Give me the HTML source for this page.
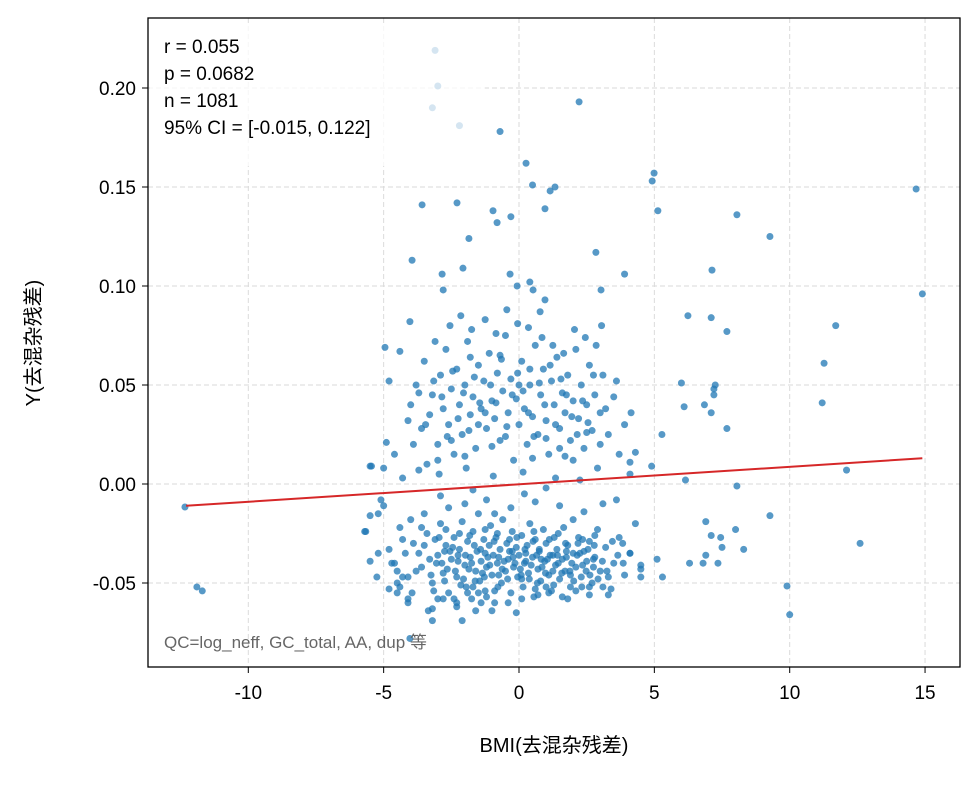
<!DOCTYPE html>
<html><head><meta charset="utf-8"><style>
body{margin:0;background:#fff;}
svg text{font-family:"Liberation Sans","Noto Sans CJK SC",sans-serif;}
</style></head><body>
<svg id="chart" width="980" height="780" xmlns="http://www.w3.org/2000/svg">
<rect width="980" height="780" fill="#fff"/>
<g id="grid"></g>
<g id="points"></g>
<g id="fit"></g>
<rect x="150" y="26" width="335" height="140" fill="#fff" fill-opacity="0.75"/>
<rect x="148" y="18" width="812" height="649" fill="none" stroke="#000" stroke-width="1.3"/>
<g id="axes"></g>
<g font-size="19" fill="#000">
<text x="164" y="53">r = 0.055</text>
<text x="164" y="80">p = 0.0682</text>
<text x="164" y="107">n = 1081</text>
<text x="164" y="134">95% CI = [-0.015, 0.122]</text>
</g>
<text x="164" y="648" font-size="17" fill="#666">QC=log_neff, GC_total, AA, dup 等</text>
<text x="554" y="752" font-size="20" text-anchor="middle">BMI(去混杂残差)</text>
<text x="40" y="343" font-size="20" text-anchor="middle" transform="rotate(-90 40 343)">Y(去混杂残差)</text>
</svg>
<script>
const xTicks=[-10,-5,0,5,10,15];
const yTicks=[-0.05,0,0.05,0.10,0.15,0.20];
const yTickLabels=["-0.05","0.00","0.05","0.10","0.15","0.20"];
const fitX=[-12.3,14.9];
const fitY=[-0.011,0.013];
const outX=[-12.34,-11.9,-11.7,2.22,-0.7,0.26,4.99,4.92,0.5,1.15,1.33,0.96,5.13,-0.96,-0.3,-0.81,-2.29,-3.58,-1.85,8.05,9.27,14.67,14.9,11.7,11.27,11.2,12.1,12.6,9.9,10.0,9.27,8.05,7.13,7.1,6.24,2.84,3.9,-0.33,-2.84,-2.8,-2.07,-3.95,-0.07,0.4,0.52,0.96,0.78,3.03,-4.03,-4.95,-4.4,7.68,6.0,6.1,7.25,7.2,7.2,6.85,7.1,7.68,5.28,4.14,4.3,4.1,4.9,6.15,6.9,7.1,7.45,7.5,8.0,8.3,6.9,7.35,6.8,6.3,5.3,5.1,4.1,4.5,4.5,3.83,-5.45,-4.9,-5.0,-5.5,-5.66,-5.1,-5.5,-5.2,-5.25,-4.7,-4.4,-4.8,-4.5,-4.3,-4.1,-4.5,-4.1,-4.03,-3.2,-2.8,-3.35,-3.2,-2.1,-1.5,-1.0,-2.3,-3.1,-3.0,-3.2,-2.2];
const outY=[-0.0116,-0.052,-0.054,0.193,0.178,0.162,0.157,0.153,0.151,0.148,0.150,0.139,0.138,0.138,0.135,0.132,0.142,0.141,0.124,0.136,0.125,0.149,0.096,0.080,0.061,0.041,0.007,-0.030,-0.0515,-0.066,-0.016,-0.001,0.108,0.084,0.085,0.117,0.106,0.106,0.106,0.098,0.109,0.113,0.100,0.102,0.098,0.093,0.087,0.098,0.082,0.069,0.067,0.077,0.051,0.039,0.050,0.048,0.045,0.040,0.036,0.028,0.025,0.036,0.016,0.011,0.009,0.002,-0.019,-0.026,-0.027,-0.032,-0.023,-0.033,-0.036,-0.040,-0.040,-0.040,-0.047,-0.038,-0.035,-0.043,-0.047,-0.030,0.009,0.021,-0.011,-0.016,-0.024,-0.008,-0.039,-0.035,-0.047,-0.040,-0.052,-0.053,-0.055,-0.047,-0.060,-0.044,-0.058,-0.078,-0.069,-0.058,-0.064,-0.063,-0.069,-0.055,-0.064,-0.060,0.219,0.201,0.190,0.181];
const lowX=[-3.9,-3.6,-3.4,-3.2,-3.0,-2.9,-2.8,-2.7,-2.6,-2.5,-2.4,-2.3,-2.2,-2.1,-2.0,-1.95,-1.9,-1.8,-1.75,-1.7,-1.6,-1.55,-1.5,-1.45,-1.4,-1.3,-1.25,-1.2,-1.1,-1.05,-1.0,-0.95,-0.9,-0.85,-0.8,-0.7,-0.65,-0.6,-0.5,-0.45,-0.4,-0.3,-0.25,-0.2,-0.1,-0.05,0.0,0.1,0.15,0.2,0.3,0.35,0.4,0.5,0.55,0.6,0.7,0.75,0.8,0.9,0.95,1.0,1.1,1.15,1.2,1.3,1.35,1.4,1.5,1.6,1.65,1.7,1.8,1.9,2.0,2.1,2.2,2.3,2.4,2.5,2.6,2.7,2.8,2.9,3.0,3.2,3.4,3.5,3.7,3.9,4.1,4.3,4.5,-3.7,-3.3,-3.1,-2.85,-2.65,-2.45,-2.25,-2.05,-1.85,-1.65,-1.35,-1.15,-0.75,-0.55,-0.35,-0.15,0.05,0.25,0.45,0.65,0.85,1.05,1.25,1.45,1.75,1.95,2.15,2.35,2.55,2.75,-2.0,-1.2,-0.3,0.6,1.5,2.4,-2.6,3.1,-0.9,0.2,-1.7,1.0,-2.9,2.0,-3.5,3.6,-4.6,-4.3,-4.1,-4.5,-4.2,-4.8,-4.4,-3.95,-4.0,-5.7,-5.2,-3.0,-2.3,-1.6,-0.1,0.7,1.8,2.6,3.3,-1.2];
const lowY=[-0.030,-0.042,-0.025,-0.050,-0.036,-0.020,-0.045,-0.031,-0.055,-0.038,-0.027,-0.047,-0.033,-0.019,-0.041,-0.052,-0.029,-0.037,-0.058,-0.024,-0.044,-0.034,-0.015,-0.049,-0.039,-0.028,-0.054,-0.042,-0.031,-0.021,-0.046,-0.036,-0.060,-0.027,-0.040,-0.033,-0.050,-0.018,-0.044,-0.030,-0.038,-0.055,-0.024,-0.042,-0.032,-0.047,-0.036,-0.026,-0.052,-0.040,-0.031,-0.045,-0.020,-0.037,-0.057,-0.028,-0.043,-0.034,-0.049,-0.023,-0.039,-0.030,-0.046,-0.036,-0.054,-0.027,-0.041,-0.033,-0.048,-0.038,-0.022,-0.044,-0.031,-0.052,-0.035,-0.042,-0.027,-0.047,-0.034,-0.039,-0.029,-0.050,-0.037,-0.023,-0.044,-0.032,-0.053,-0.040,-0.027,-0.046,-0.035,-0.020,-0.041,-0.035,-0.038,-0.028,-0.040,-0.043,-0.032,-0.039,-0.048,-0.043,-0.031,-0.045,-0.037,-0.046,-0.039,-0.034,-0.040,-0.043,-0.035,-0.041,-0.036,-0.042,-0.038,-0.044,-0.040,-0.037,-0.040,-0.036,-0.041,-0.033,-0.038,-0.010,-0.008,-0.012,-0.009,-0.011,-0.014,-0.012,-0.010,-0.015,-0.005,-0.003,-0.002,-0.006,-0.018,-0.015,-0.008,-0.040,-0.028,-0.047,-0.050,-0.035,-0.033,-0.022,-0.055,-0.018,-0.024,-0.015,-0.058,-0.062,-0.064,-0.065,-0.056,-0.058,-0.056,-0.056,-0.057];
const low2X=[-3.8,-3.5,-3.25,-3.05,-2.95,-2.75,-2.55,-2.35,-2.15,-1.98,-1.82,-1.62,-1.42,-1.28,-1.08,-0.92,-0.78,-0.62,-0.42,-0.22,-0.08,0.08,0.22,0.38,0.52,0.68,0.82,0.98,1.12,1.28,1.42,1.58,1.72,1.88,2.02,2.18,2.32,2.48,2.62,2.78,2.92,3.08,3.25,3.45,3.65,3.85,-3.6,-3.15,-2.7,-2.2,-1.7,-1.25,-0.8,-0.35,0.1,0.55,1.0,1.45,1.9,2.35,2.8,3.3,-2.4,-1.9,-1.4,-0.9,-0.4,0.1,0.6,1.1,1.6,2.1,2.6,3.1,-2.75,-2.25,-1.75,-1.25,-0.75,-0.25,0.25,0.75,1.25,1.75,2.25,2.75];
const low2Y=[-0.044,-0.031,-0.046,-0.040,-0.027,-0.049,-0.034,-0.044,-0.051,-0.036,-0.026,-0.049,-0.033,-0.047,-0.041,-0.029,-0.052,-0.043,-0.048,-0.037,-0.027,-0.046,-0.033,-0.048,-0.029,-0.050,-0.038,-0.045,-0.028,-0.051,-0.036,-0.045,-0.030,-0.044,-0.049,-0.030,-0.052,-0.044,-0.046,-0.031,-0.048,-0.039,-0.044,-0.029,-0.036,-0.040,-0.022,-0.054,-0.023,-0.025,-0.052,-0.023,-0.025,-0.028,-0.048,-0.024,-0.052,-0.025,-0.046,-0.028,-0.026,-0.047,-0.058,-0.055,-0.060,-0.054,-0.060,-0.058,-0.053,-0.055,-0.057,-0.054,-0.052,-0.052,-0.034,-0.036,-0.040,-0.035,-0.037,-0.034,-0.039,-0.033,-0.036,-0.034,-0.035,-0.042];
const upX=[-4.0,-3.8,-3.6,-3.5,-3.3,-3.2,-3.0,-2.9,-2.8,-2.7,-2.6,-2.5,-2.4,-2.3,-2.2,-2.1,-2.0,-1.9,-1.8,-1.7,-1.6,-1.5,-1.4,-1.3,-1.2,-1.1,-1.0,-0.9,-0.8,-0.7,-0.6,-0.5,-0.4,-0.3,-0.2,-0.1,0.0,0.1,0.2,0.3,0.4,0.5,0.6,0.7,0.8,0.9,1.0,1.1,1.2,1.3,1.4,1.5,1.6,1.7,1.8,1.9,2.0,2.1,2.2,2.3,2.4,2.5,2.6,2.7,2.8,2.9,3.0,3.1,3.3,3.5,3.7,3.9,4.1,-3.9,-3.4,-3.1,-2.55,-2.15,-1.75,-1.25,-0.85,-0.45,-0.05,0.35,0.85,1.25,1.65,2.05,2.45,2.85,3.05,-2.95,-1.95,-0.95,0.15,1.35,2.25,-3.7,-4.3,-4.6,-5.0,-4.8,-5.5,-4.1];
const upY=[0.040,0.050,0.028,0.062,0.035,0.045,0.020,0.055,0.038,0.068,0.030,0.048,0.015,0.058,0.040,0.025,0.050,0.072,0.035,0.044,0.018,0.060,0.038,0.052,0.028,0.066,0.042,0.033,0.056,0.022,0.047,0.075,0.036,0.053,0.012,0.043,0.030,0.062,0.038,0.020,0.050,0.034,0.070,0.025,0.045,0.058,0.032,0.015,0.052,0.040,0.064,0.028,0.046,0.036,0.055,0.022,0.042,0.068,0.033,0.050,0.018,0.040,0.060,0.027,0.045,0.008,0.036,0.055,0.025,0.044,0.015,0.030,0.005,0.020,0.010,0.072,0.080,0.085,0.078,0.083,0.076,0.088,0.081,0.079,0.074,0.070,0.066,0.078,0.074,0.070,0.080,0.005,0.008,0.004,0.006,0.003,0.002,0.007,0.003,0.015,0.008,0.052,0.009,0.032];
const up2X=[-3.7,-3.45,-3.15,-2.85,-2.65,-2.45,-2.25,-2.05,-1.85,-1.65,-1.45,-1.25,-1.05,-0.85,-0.65,-0.45,-0.25,-0.05,0.15,0.35,0.55,0.75,0.95,1.15,1.35,1.55,1.75,1.95,2.15,2.35,2.55,2.75,3.2,3.6,-3.0,-2.5,-2.0,-1.5,-1.0,-0.5,0.0,0.5,1.0,1.5,2.0,2.5,3.0,-1.8,-0.7,0.4,1.7];
const up2Y=[0.046,0.030,0.052,0.044,0.024,0.057,0.033,0.046,0.027,0.054,0.041,0.036,0.050,0.041,0.063,0.029,0.045,0.056,0.047,0.036,0.024,0.051,0.040,0.060,0.030,0.053,0.045,0.034,0.025,0.042,0.031,0.055,0.038,0.052,0.012,0.022,0.014,0.030,0.019,0.024,0.050,0.013,0.023,0.018,0.012,0.026,0.020,0.064,0.065,0.058,0.014];

const X0=519,XS=27.07,Y0=484,YS=1980;
const sx=v=>X0+v*XS, sy=v=>Y0-v*YS;
const NS="http://www.w3.org/2000/svg";
const grid=document.getElementById('grid'),axes=document.getElementById('axes');
xTicks.forEach(t=>{
  const l=document.createElementNS(NS,'line');
  
  
  l.setAttribute('x1',sx(t));l.setAttribute('x2',sx(t));l.setAttribute('y1',18);l.setAttribute('y2',667);
  l.setAttribute('stroke','#dadada');l.setAttribute('stroke-dasharray','5,3');grid.appendChild(l);
  const k=document.createElementNS(NS,'line');
  
  
  k.setAttribute('x1',sx(t));k.setAttribute('x2',sx(t));k.setAttribute('y1',667);k.setAttribute('y2',673);k.setAttribute('stroke','#000');axes.appendChild(k);
  const tx=document.createElementNS(NS,'text');
  
  
  tx.setAttribute('x',sx(t));tx.setAttribute('y',699);tx.setAttribute('font-size','19');tx.setAttribute('text-anchor','middle');
  tx.textContent=String(t);axes.appendChild(tx);
});
yTicks.forEach((t,i)=>{
  const l=document.createElementNS(NS,'line');
  
  
  l.setAttribute('x1',148);l.setAttribute('x2',960);l.setAttribute('y1',sy(t));l.setAttribute('y2',sy(t));
  l.setAttribute('stroke','#dadada');l.setAttribute('stroke-dasharray','5,3');grid.appendChild(l);
  const k=document.createElementNS(NS,'line');
  
  
  k.setAttribute('x1',142);k.setAttribute('x2',148);k.setAttribute('y1',sy(t));k.setAttribute('y2',sy(t));k.setAttribute('stroke','#000');axes.appendChild(k);
  const tx=document.createElementNS(NS,'text');
  
  
  tx.setAttribute('x',136);tx.setAttribute('y',sy(t)+7);tx.setAttribute('font-size','19');tx.setAttribute('text-anchor','end');
  tx.textContent=yTickLabels[i];axes.appendChild(tx);
});
const pg=document.getElementById('points');
function plot(xs,ys){
  xs.forEach((x,i)=>{
    const c=document.createElementNS(NS,'circle');
    
    
    c.setAttribute('cx',sx(x));c.setAttribute('cy',sy(ys[i]));c.setAttribute('r',3.5);
    c.setAttribute('fill','#1f77b4');c.setAttribute('fill-opacity','0.75');pg.appendChild(c);
  });
}
plot(outX,outY);plot(lowX,lowY);plot(low2X,low2Y);plot(upX,upY);plot(up2X,up2Y);
const fl=document.createElementNS(NS,'line');


fl.setAttribute('x1',sx(fitX[0]));fl.setAttribute('y1',sy(fitY[0]));fl.setAttribute('x2',sx(fitX[1]));fl.setAttribute('y2',sy(fitY[1]));
fl.setAttribute('stroke','#d62728');fl.setAttribute('stroke-width','2');
document.getElementById('fit').appendChild(fl);
</script>
</body></html>
